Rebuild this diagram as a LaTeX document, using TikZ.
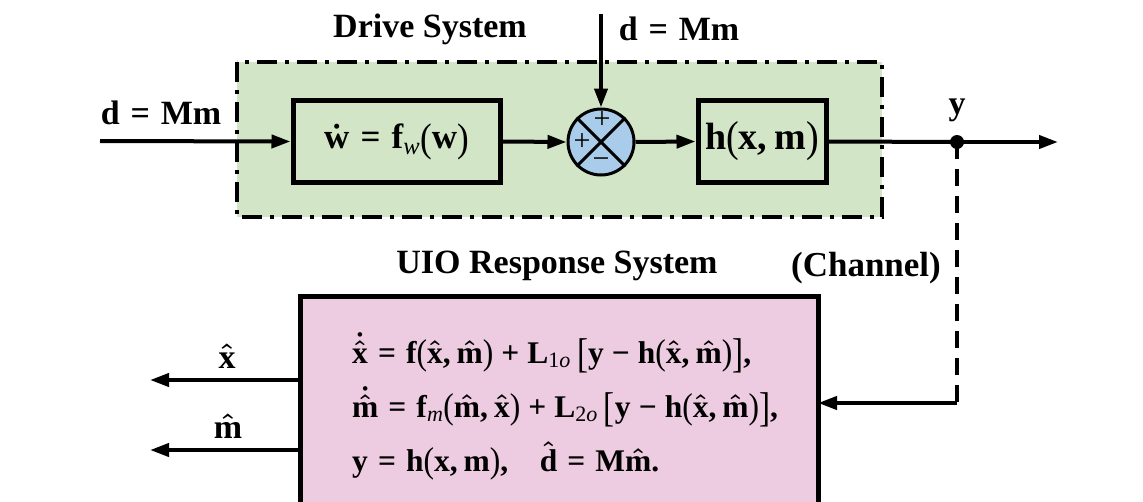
\RequirePackage{fix-cm}
\documentclass[tikz,border=0pt]{standalone}
\usepackage{amsmath}
\usepackage{fontspec}
\setmainfont{Liberation Serif}
\usepackage{graphicx}
\usetikzlibrary{arrows.meta}
\definecolor{drivegreen}{HTML}{D2E5C6}
\definecolor{uiopink}{HTML}{EDCBE0}
\definecolor{sumblue}{HTML}{A8CCEA}
\newcommand\B[1]{\text{\bfseries #1}}
\newcommand\Eq{\mathrel{\B{=}}}
\newcommand\Pl{\mathbin{\B{+}}}
\newcommand\Mi{\mathbin{\B{−}}}
\newcommand\Sb[1]{\text{\mdseries\upshape #1}}
\newcommand\Lp{\mathopen{\text{\mdseries\raisebox{-0.06em}{\scalebox{1}[1.14]{(}}}}}
\newcommand\Rp{\mathclose{\text{\mdseries\raisebox{-0.06em}{\scalebox{1}[1.14]{)}}}}}
\newcommand\Lb{\,\mathopen{\text{\mdseries\raisebox{-0.14em}{\scalebox{1.05}[1.32]{[}}}}}
\newcommand\Rb{\mathclose{\text{\mdseries\raisebox{-0.14em}{\scalebox{1.05}[1.32]{]}}}}}
\newcommand\Cm{\B{,}\,}
\tikzset{
  sig/.style={line width=4pt,-{Triangle[length=19pt,width=13pt]}},
  plain/.style={line width=4pt},
  blk/.style={draw,line width=5pt,minimum width=#1,minimum height=82pt,inner sep=0pt},
  lbl/.style={font=\fontsize{34}{38}\selectfont\bfseries\boldmath},
  ttl/.style={font=\fontsize{34}{38}\selectfont\bfseries},
  eq/.style={font=\fontsize{31.5}{34}\selectfont\bfseries\boldmath,anchor=base west,inner sep=0pt},
}
\begin{document}
\begin{tikzpicture}[x=1pt,y=-1pt]
\useasboundingbox (0,0) rectangle (1143,501);
% drive system container
\draw[fill=drivegreen,line width=4pt,dash pattern=on 20pt off 8pt on 4pt off 8pt] (237,62) rectangle (882,217);
\node[ttl] (dtitle) at (430,29) {Drive System};
% blocks
\node[blk=207pt,lbl,font=\fontsize{35}{38}\selectfont\bfseries\boldmath] (w) at (396.5,141.5) {$\dot{\B{w}}\Eq\B{f}_{\Sb{\itshape w}}\Lp\B{w}\Rp$};
\node[circle,draw,line width=3pt,fill=sumblue,minimum size=66pt,inner sep=0pt] (sum) at (601,142) {};
\draw[line width=3pt] (sum.north west) -- (sum.south east);
\draw[line width=3pt] (sum.north east) -- (sum.south west);
\node[font=\fontsize{30}{30}\selectfont] (p1) at (602,120) {+};
\node[font=\fontsize{30}{30}\selectfont] (p2) at (582,142) {+};
\node[font=\fontsize{30}{30}\selectfont] (m1) at (601,163) {−};
\node[blk=128pt,lbl,font=\fontsize{38}{40}\selectfont\bfseries\boldmath] (h) at (762,141.5) {$\B{h}\Lp\B{x}\Cm\B{m}\Rp$};
% inputs
\coordinate (inL) at (100,141);
\coordinate (inT) at (601,14);
\node[lbl] (dL) at (161,113) {$\B{d}\Eq\B{Mm}$};
\node[lbl] (dT) at (679,29) {$\B{d}\Eq\B{Mm}$};
\draw[sig] (inL) -- (w.west);
\draw[sig] (inT) -- (sum.north);
\draw[sig] (w.east) -- (sum.west);
\draw[sig] (sum.east) -- (h.west);
% output y
\coordinate (ydot) at (957,142);
\coordinate (yout) at (1058,142);
\draw[plain] (h.east) -- (ydot);
\draw[sig] (ydot) -- (yout);
\fill (ydot) circle (7pt);
\node[lbl] (ylbl) at (957,110) {y};
% response system
\draw[fill=uiopink,line width=5pt] (300,296) rectangle (818,510);
\coordinate (uioR) at (818,403);
\coordinate (uioA) at (300,380);
\coordinate (uioB) at (300,450);
\node[ttl] (rtitle) at (557,266) {UIO Response System};
\node[ttl,font=\fontsize{35}{38}\selectfont\bfseries] (chan) at (866,268) {(Channel)};
\coordinate (ycorner) at (957,403);
\draw[line width=4pt,dash pattern=on 17pt off 10pt] (ydot) -- (ycorner);
\draw[sig] (ycorner) -- (uioR);
\node[eq] (e1) at (352,363) {$\dot{\hat{\B{x}}}\Eq\B{f}\Lp\hat{\B{x}}\Cm\hat{\B{m}}\Rp\Pl\B{L}_{\Sb{1\itshape o}}\Lb\B{y}\Mi\B{h}\Lp\hat{\B{x}}\Cm\hat{\B{m}}\Rp\Rb\B{,}$};
\node[eq] (e2) at (352,417) {$\dot{\hat{\B{m}}}\Eq\B{f}_{\Sb{\itshape m}}\Lp\hat{\B{m}}\Cm\hat{\B{x}}\Rp\Pl\B{L}_{\Sb{2\itshape o}}\Lb\B{y}\Mi\B{h}\Lp\hat{\B{x}}\Cm\hat{\B{m}}\Rp\Rb\B{,}$};
\node[eq] (e3) at (352,471) {$\B{y}\Eq\B{h}\Lp\B{x}\Cm\B{m}\Rp\B{,}\quad\hat{\B{d}}\Eq\B{M}\hat{\B{m}}\B{.}$};
% outputs
\coordinate (xo) at (150,380);
\coordinate (mo) at (150,450);
\draw[sig] (uioA) -- (xo);
\draw[sig] (uioB) -- (mo);
\node[lbl] (xl) at (227,356) {$\hat{\B{x}}$};
\node[lbl] (ml) at (228,426) {$\hat{\B{m}}$};
\end{tikzpicture}
\end{document}
